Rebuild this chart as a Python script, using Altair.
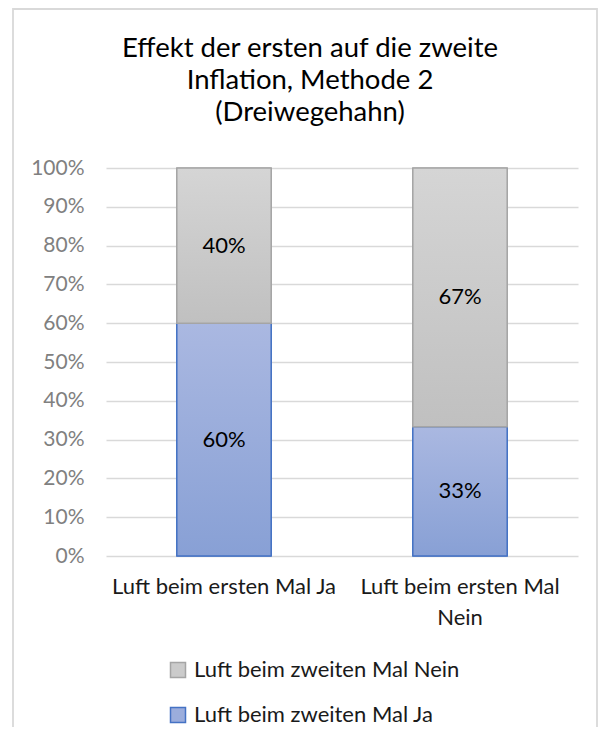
import altair as alt
import pandas as pd

categories = ["Luft beim ersten Mal Ja", "Luft beim ersten Mal Nein"]
series = ["Luft beim zweiten Mal Ja", "Luft beim zweiten Mal Nein"]
ja_values = [0.60, 0.3333]
nein_values = [0.40, 0.6667]
y_ticks = [0, 0.1, 0.2, 0.3, 0.4, 0.5, 0.6, 0.7, 0.8, 0.9, 1.0]
title_lines = ["Effekt der ersten auf die zweite", "Inflation, Methode 2", "(Dreiwegehahn)"]

rows = []
for i, c in enumerate(categories):
    rows.append({"cat": c, "series": series[0], "value": ja_values[i], "order": 0})
    rows.append({"cat": c, "series": series[1], "value": nein_values[i], "order": 1})
df = pd.DataFrame(rows)

FONT = "Lato"
FS = 22
GRAY_FILL, GRAY_STROKE = "#CBCBCB", "#A5A5A5"
BLUE_FILL, BLUE_STROKE = "#9BADDC", "#4472C4"

gray_grad = alt.LinearGradient(
    gradient="linear", x1=0, x2=0, y1=0, y2=1,
    stops=[alt.GradientStop(color="#D5D5D5", offset=0), alt.GradientStop(color="#C0C0C0", offset=1)],
)
blue_grad = alt.LinearGradient(
    gradient="linear", x1=0, x2=0, y1=0, y2=1,
    stops=[alt.GradientStop(color="#AAB8E1", offset=0), alt.GradientStop(color="#88A0D5", offset=1)],
)

base = alt.Chart(df).transform_stack(
    stack="value", as_=["y0", "y1"], groupby=["cat"],
    sort=[alt.SortField("order", order="ascending")],
).transform_calculate(ymid="(datum.y0 + datum.y1) / 2")

label_expr = "datum.value == 'Luft beim ersten Mal Nein' ? ['Luft beim ersten Mal', 'Nein'] : datum.value"

x_enc = alt.X(
    "cat:N", sort=categories,
    scale=alt.Scale(paddingInner=0.6, paddingOuter=0.3),
    axis=alt.Axis(
        title=None, labelAngle=0, labelExpr=label_expr, labelFont=FONT, labelFontSize=FS,
        labelColor="#1A1A1A", labelPadding=20, labelLineHeight=31, labelLimit=400,
        labelOverlap=False, ticks=False, domain=False, grid=False,
    ),
)
y_scale = alt.Scale(domain=[0, 1], nice=False)
y_axis = alt.Axis(
    title=None, values=y_ticks, format=".0%", labelFont=FONT, labelFontSize=21,
    labelColor="#808080", labelPadding=22, ticks=False, domain=False,
    labelOverlap=False, grid=True, gridColor="#D9D9D9", gridWidth=1.5,
)
y_enc = alt.Y("y0:Q", scale=y_scale, axis=y_axis)

border = alt.Chart(pd.DataFrame({"a": [0]})).mark_rect(
    fillOpacity=0, stroke="#D9D9D9", strokeWidth=1.8
).encode(x=alt.value(-93), x2=alt.value(491), y=alt.value(-159), y2=alt.value(700))

title = alt.Chart(pd.DataFrame({"a": [0]})).mark_text(
    font=FONT, fontSize=27.5, color="#000000", align="center", baseline="alphabetic", lineHeight=32
).encode(x=alt.value(204), y=alt.value(-111), text=alt.value(title_lines))

legend_cfg = dict(
    title=None, orient="none", legendX=61, legendY=491, direction="vertical",
    symbolType="square", symbolSize=225, symbolStrokeWidth=1.5,
    labelFont=FONT, labelFontSize=FS, labelColor="#1A1A1A", labelLimit=400,
    rowPadding=23, labelOffset=5,
)

legend_layer = base.mark_bar().encode(
    x=x_enc, y=y_enc, y2="y1:Q",
    color=alt.Color(
        "series:N",
        scale=alt.Scale(domain=[series[1], series[0]], range=[GRAY_FILL, BLUE_FILL]),
        legend=alt.Legend(**legend_cfg),
    ),
    stroke=alt.Stroke(
        "series:N",
        scale=alt.Scale(domain=[series[1], series[0]], range=[GRAY_STROKE, BLUE_STROKE]),
        legend=alt.Legend(**legend_cfg),
    ),
)

blue_bars = base.transform_filter(alt.datum.series == series[0]).mark_bar(
    fill=blue_grad, stroke=BLUE_STROKE, strokeWidth=1.5
).encode(x=x_enc, y=y_enc, y2="y1:Q")

gray_bars = base.transform_filter(alt.datum.series == series[1]).mark_bar(
    fill=gray_grad, stroke=GRAY_STROKE, strokeWidth=1.5
).encode(x=x_enc, y=y_enc, y2="y1:Q")

text = base.mark_text(font=FONT, fontSize=FS, color="#000000").encode(
    x=x_enc, y=alt.Y("ymid:Q", scale=y_scale, axis=y_axis),
    text=alt.Text("value:Q", format=".0%"),
)

chart = alt.layer(border, title, legend_layer, blue_bars, gray_bars, text).properties(
    width=472, height=388,
    padding={"left": 98, "top": 160, "right": 21, "bottom": 171},
    autosize=alt.AutoSizeParams(type="none"),
).configure_view(stroke=None)

chart.save("out.html", embed_options={"renderer": "svg", "actions": False})
